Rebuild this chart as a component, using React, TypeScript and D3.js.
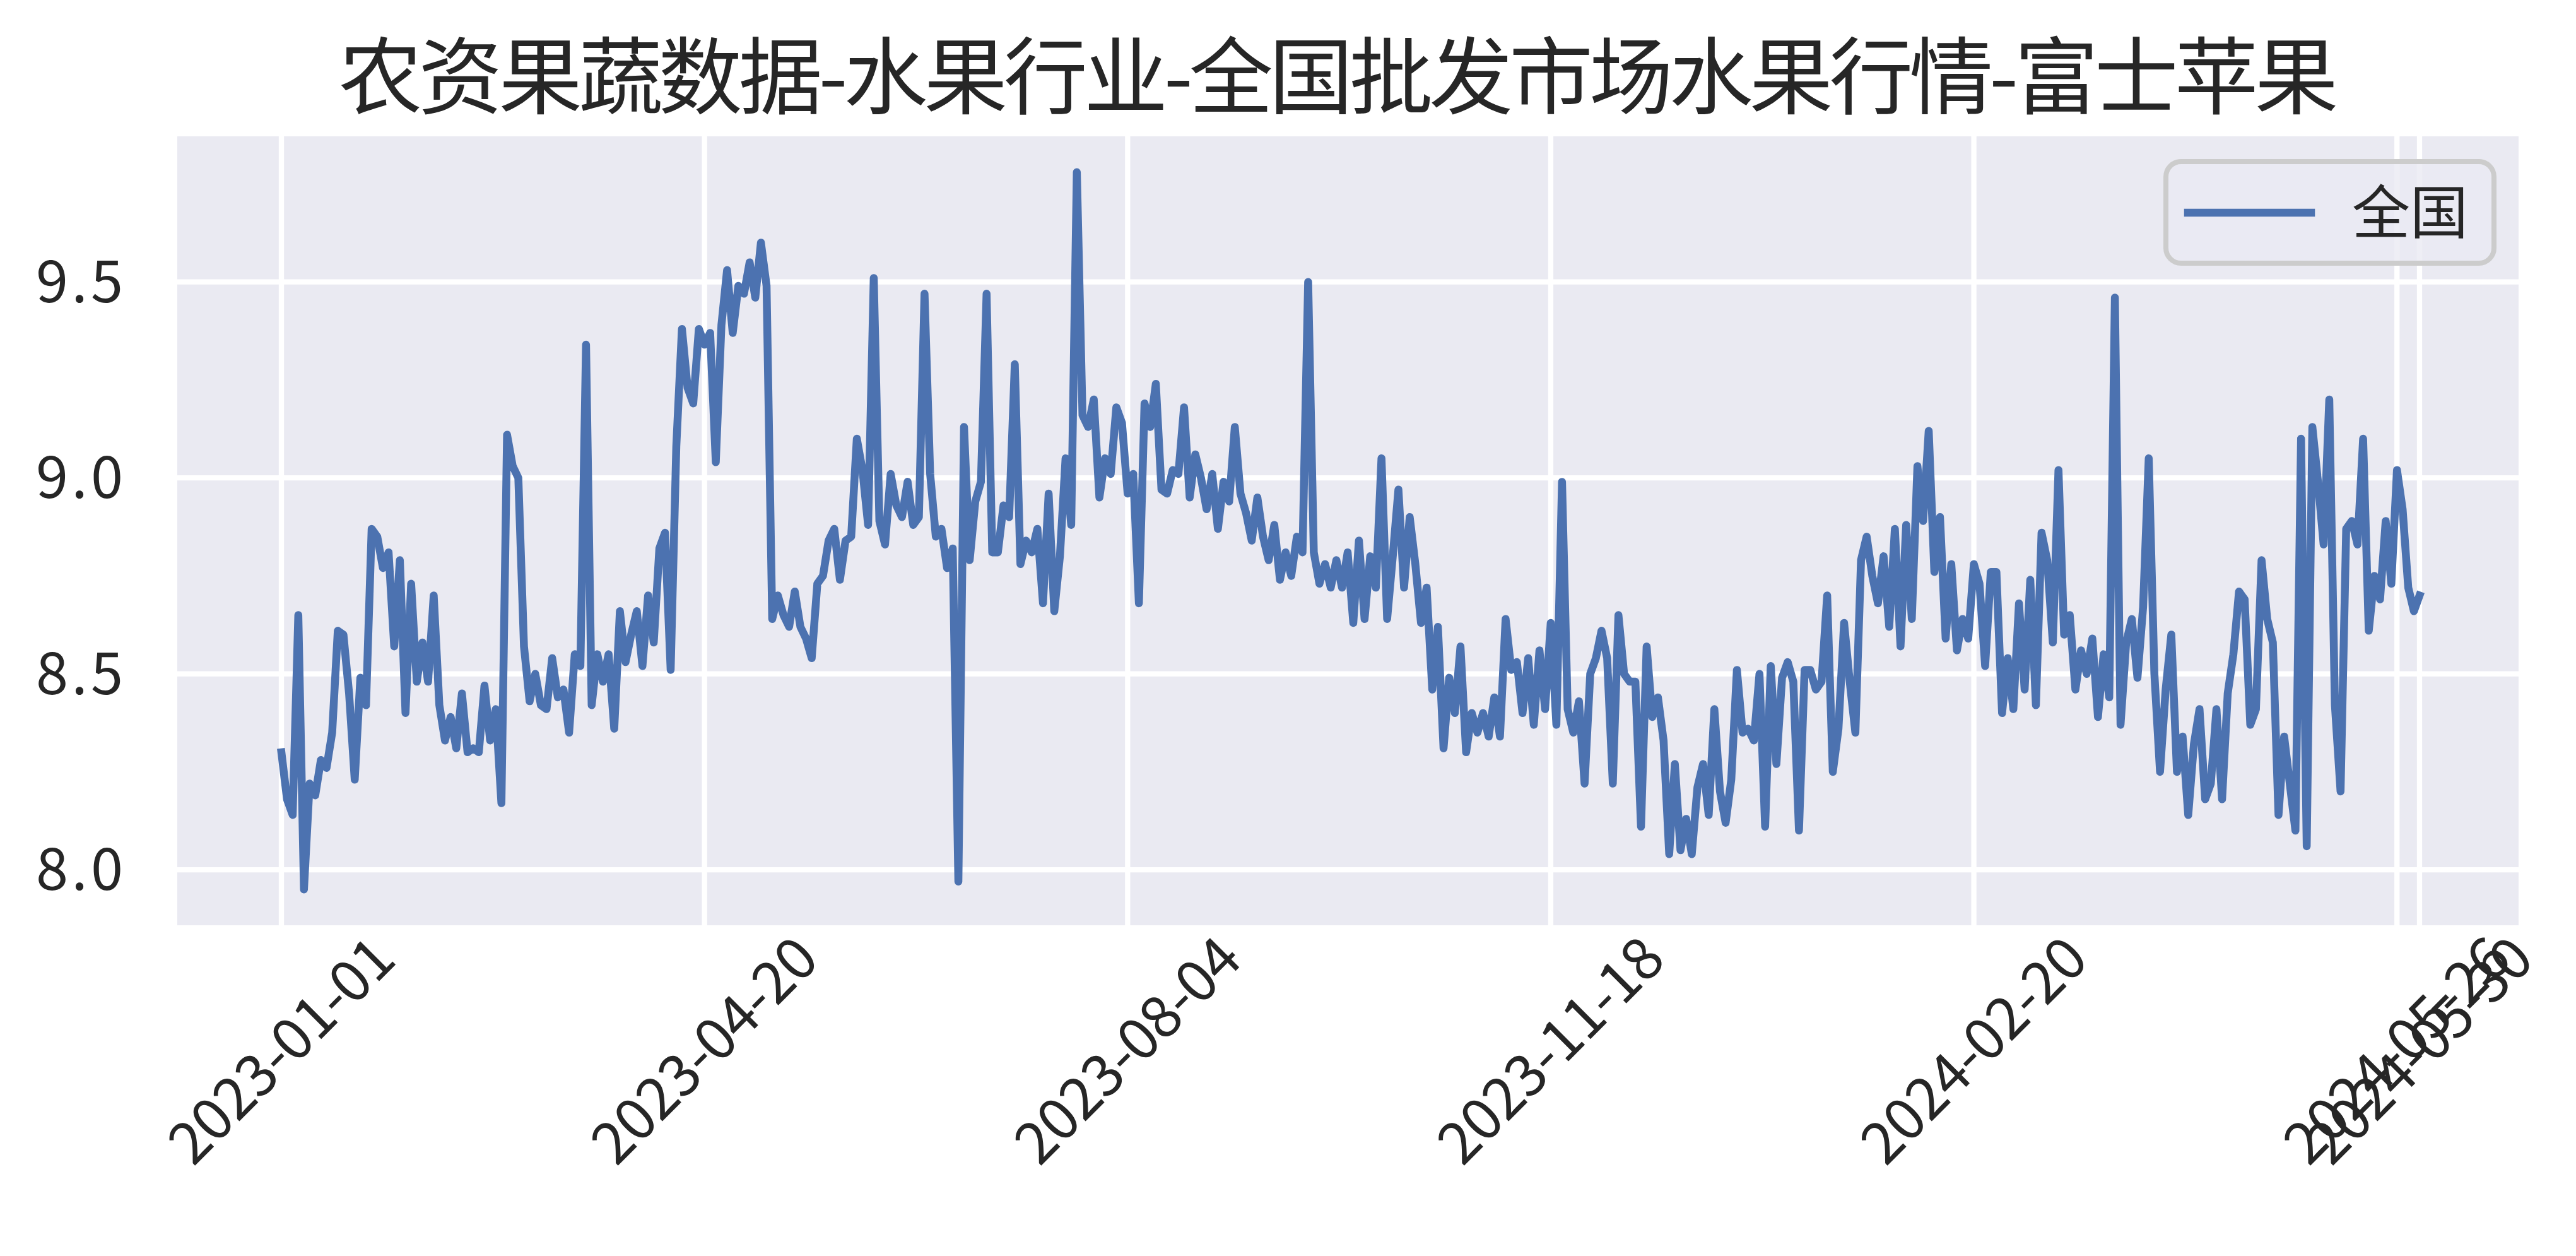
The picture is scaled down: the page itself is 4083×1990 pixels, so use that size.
import React from "react";
import * as d3 from "d3";

const TITLE = "农资果蔬数据-水果行业-全国批发市场水果行情-富士苹果";
const SERIES_NAME = "全国";

const xTickIndex = [0, 75, 150, 225, 300, 375, 379];
const xTickLabels = ["2023-01-01", "2023-04-20", "2023-08-04", "2023-11-18", "2024-02-20", "2024-05-26", "2024-05-30"];
const yTicks = [8.0, 8.5, 9.0, 9.5];
const yTickLabels = ["8.0", "8.5", "9.0", "9.5"];

const seg1 = [8.30, 8.18, 8.14, 8.65, 7.95, 8.22, 8.19, 8.28, 8.26, 8.35,
  8.61, 8.60, 8.45, 8.23, 8.49, 8.42, 8.87, 8.85, 8.77, 8.81,
  8.57, 8.79, 8.40, 8.73, 8.48, 8.58, 8.48, 8.70, 8.42, 8.33,
  8.39, 8.31, 8.45, 8.30, 8.31];
const seg2 = [8.30, 8.47, 8.33, 8.41, 8.17, 9.11, 9.03, 9.00, 8.57, 8.43,
  8.50, 8.42, 8.41, 8.54, 8.44, 8.46, 8.35, 8.55, 8.52, 9.34,
  8.42, 8.55, 8.48, 8.55, 8.36, 8.66, 8.53, 8.60, 8.66, 8.52,
  8.70, 8.58, 8.82, 8.86, 8.51];
const seg3 = [9.08, 9.38, 9.23, 9.19, 9.38, 9.34, 9.37, 9.04, 9.39, 9.53,
  9.37, 9.49, 9.47, 9.55, 9.46, 9.60, 9.49, 8.64, 8.70, 8.65,
  8.62, 8.71, 8.62, 8.59, 8.54, 8.73, 8.75, 8.84, 8.87, 8.74,
  8.84, 8.85, 9.10, 9.02, 8.88, 9.51];
const seg4 = [8.89, 8.83, 9.01, 8.93, 8.90, 8.99, 8.88, 8.90, 9.47, 9.01,
  8.85, 8.87, 8.77, 8.82, 7.97, 9.13, 8.79, 8.94, 8.99, 9.47,
  8.81, 8.81, 8.93, 8.90, 9.29, 8.78, 8.84, 8.81, 8.87, 8.68,
  8.96, 8.66, 8.80, 9.05, 8.88, 9.78];
const seg5 = [9.16, 9.13, 9.20, 8.95, 9.05, 9.01, 9.18, 9.14, 8.96, 9.01,
  8.68, 9.19, 9.13, 9.24, 8.97, 8.96, 9.02, 9.01, 9.18, 8.95,
  9.06, 9.00, 8.92, 9.01, 8.87, 8.99, 8.94, 9.13, 8.96, 8.91,
  8.84, 8.95, 8.85, 8.79, 8.88, 8.74];
const seg6 = [8.81, 8.75, 8.85, 8.81, 9.50, 8.81, 8.73, 8.78, 8.72, 8.79,
  8.72, 8.81, 8.63, 8.84, 8.64, 8.80, 8.72, 9.05, 8.64, 8.80,
  8.97, 8.72, 8.90, 8.78, 8.63, 8.72, 8.46, 8.62, 8.31, 8.49,
  8.40, 8.57, 8.30, 8.40, 8.35];
const seg7 = [8.40, 8.34, 8.44, 8.34, 8.64, 8.51, 8.53, 8.40, 8.54, 8.37,
  8.56, 8.41, 8.63, 8.37, 8.99, 8.41, 8.35, 8.43, 8.22, 8.50,
  8.54, 8.61, 8.54, 8.22, 8.65, 8.50, 8.48, 8.48, 8.11, 8.57,
  8.39, 8.44, 8.33, 8.04, 8.27];
const seg8 = [8.05, 8.13, 8.04, 8.21, 8.27, 8.14, 8.41, 8.20, 8.12, 8.23,
  8.51, 8.35, 8.36, 8.33, 8.50, 8.11, 8.52, 8.27, 8.49, 8.53,
  8.48, 8.10, 8.51, 8.51, 8.46, 8.48, 8.70, 8.25, 8.36, 8.63,
  8.48, 8.35, 8.79, 8.85, 8.75, 8.68];
const seg9 = [8.80, 8.62, 8.87, 8.57, 8.88, 8.64, 9.03, 8.89, 9.12, 8.76,
  8.90, 8.59, 8.78, 8.56, 8.64, 8.59, 8.78, 8.73, 8.52, 8.76,
  8.76, 8.40, 8.54, 8.41, 8.68, 8.46, 8.74, 8.42, 8.86, 8.79,
  8.58, 9.02, 8.60, 8.65, 8.46, 8.56];
const seg10 = [8.50, 8.59, 8.39, 8.55, 8.44, 9.46, 8.37, 8.58, 8.64, 8.49,
  8.67, 9.05, 8.50, 8.25, 8.46, 8.60, 8.25, 8.34, 8.14, 8.32,
  8.41, 8.18, 8.22, 8.41, 8.18, 8.45, 8.55, 8.71, 8.69, 8.37,
  8.41, 8.79, 8.64, 8.58];
const seg11 = [8.14, 8.34, 8.22, 8.10, 9.10, 8.06, 9.13, 8.99, 8.83, 9.20,
  8.42, 8.20, 8.87, 8.89, 8.83, 9.10, 8.61, 8.75, 8.69, 8.89,
  8.73, 9.02, 8.92, 8.72, 8.66, 8.70];

const values = [...seg1, ...seg2, ...seg3, ...seg4, ...seg5, ...seg6, ...seg7, ...seg8, ...seg9, ...seg10, ...seg11];

const W = 4083;
const H = 1990;
const plot = { left: 281, right: 3992, top: 216, bottom: 1466 };
const BG = "#EAEAF2";
const LINE = "#4C72B0";
const TEXT = "#262626";
const FONT = "'Noto Sans CJK SC', 'Noto Sans', sans-serif";

export default function App() {
  const x = d3.scaleLinear().domain([0, values.length - 1]).range([446, 3835]);
  const ext = d3.extent(values) as [number, number];
  const pad = (ext[1] - ext[0]) * 0.05;
  const y = d3.scaleLinear().domain([ext[0] - pad, ext[1] + pad]).range([plot.bottom, plot.top]);
  const line = d3.line<number>().x((_, i) => x(i)).y((d) => y(d));

  return (
    <svg width={W} height={H} style={{ position: "absolute", left: 0, top: 0, background: "#fff" }}
      fontFamily={FONT}>
      <rect x={0} y={0} width={W} height={H} fill="#fff" />
      <rect x={plot.left} y={plot.top} width={plot.right - plot.left} height={plot.bottom - plot.top} fill={BG} />
      {yTicks.map((t) => (
        <line key={"gy" + t} x1={plot.left} x2={plot.right} y1={y(t)} y2={y(t)} stroke="#fff" strokeWidth={8.3} />
      ))}
      {xTickIndex.map((t) => (
        <line key={"gx" + t} x1={x(t)} x2={x(t)} y1={plot.top} y2={plot.bottom} stroke="#fff" strokeWidth={8.3} />
      ))}
      <path d={line(values) || ""} fill="none" stroke={LINE} strokeWidth={12.5} strokeLinejoin="round" strokeLinecap="square" />
      {yTicks.map((t, i) => (
        <text key={"ty" + t} x={195} y={y(t)} dy="0.35em" textAnchor="end" fontSize={92} fill={TEXT}
          textLength={138} lengthAdjust="spacing">{yTickLabels[i]}</text>
      ))}
      {xTickIndex.map((t, i) => (
        <text key={"tx" + t} transform={`translate(${x(t)},1664) rotate(-45)`} textAnchor="middle" dy="0.35em"
          fontSize={92} fill={TEXT} textLength={460} lengthAdjust="spacing">{xTickLabels[i]}</text>
      ))}
      <text x={(plot.left + plot.right) / 2 - 15} y={122} dy="0.36em" textAnchor="middle" fontSize={133} fill={TEXT}
        textLength={3170} lengthAdjust="spacing">{TITLE}</text>
      <g>
        <rect x={3433} y={256} width={520} height={161} rx={24} fill={BG} fillOpacity={0.8} stroke="#cccccc" strokeWidth={8} />
        <line x1={3468} x2={3663} y1={337} y2={337} stroke={LINE} strokeWidth={12.5} strokeLinecap="square" />
        <text x={3728} y={337} dy="0.36em" fontSize={92} fill={TEXT}>{SERIES_NAME}</text>
      </g>
    </svg>
  );
}
